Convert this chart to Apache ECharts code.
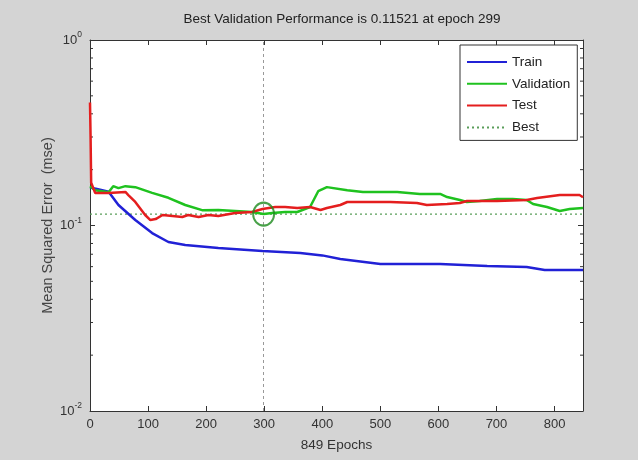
<!DOCTYPE html>
<html>
<head>
<meta charset="utf-8">
<script src="https://cdn.jsdelivr.net/npm/echarts@6/dist/echarts.min.js"></script>
<style>
  html, body { margin: 0; padding: 0; background: #d4d4d4; }
  #chart { width: 638px; height: 460px; }
</style>
</head>
<body>
<div id="chart"></div>
<script>
// epoch, mse
const trainData = [[0, 0.16], [10, 0.158], [32, 0.152], [49, 0.129], [78, 0.107], [107, 0.091], [135, 0.0815],
  [164, 0.0785], [221, 0.0756], [297, 0.0729], [362, 0.0711], [400, 0.069], [431, 0.066], [500, 0.062],
  [603, 0.062], [684, 0.0605], [752, 0.0598], [783, 0.0576], [849, 0.0576]]
const validData = [[0, 0.163], [9, 0.155], [32, 0.151], [40, 0.163], [49, 0.159], [61, 0.163], [78, 0.161],
  [107, 0.150], [135, 0.141], [164, 0.129], [193, 0.121], [221, 0.1212], [250, 0.1197], [279, 0.1182],
  [299, 0.11521], [314, 0.1168], [336, 0.1182], [357, 0.1182], [379, 0.1258], [393, 0.153], [408, 0.161],
  [443, 0.155], [470, 0.1516], [529, 0.1516], [568, 0.148], [603, 0.1479], [615, 0.1424], [637, 0.1373],
  [649, 0.1339], [671, 0.1356], [701, 0.139], [728, 0.139], [752, 0.1373], [763, 0.1306], [787, 0.1258],
  [809, 0.1197], [826, 0.1227], [849, 0.1243]]
const testData = [[0, 0.46], [1, 0.3], [2, 0.17], [9, 0.1497], [32, 0.1497], [61, 0.1516], [66, 0.146],
  [78, 0.1339], [95, 0.1139], [104, 0.107], [113, 0.1083], [125, 0.1139], [142, 0.1125], [159, 0.1111],
  [169, 0.1139], [187, 0.1111], [204, 0.1139], [221, 0.1125], [250, 0.1168], [279, 0.1182], [297, 0.1227],
  [319, 0.1258], [336, 0.1258], [357, 0.1243], [379, 0.1258], [397, 0.1212], [408, 0.1243], [431, 0.129],
  [443, 0.1339], [470, 0.1339], [517, 0.1339], [563, 0.1322], [580, 0.129], [615, 0.1306], [637, 0.1322],
  [649, 0.1356], [701, 0.1356], [752, 0.1373], [770, 0.1407], [809, 0.146], [843, 0.146], [849, 0.142]]

const bestEpoch = 299
const bestValue = 0.11521
const epochCount = 849

const xTicks = [0, 100, 200, 300, 400, 500, 600, 700, 800]
const minorTicks = [0.02, 0.03, 0.04, 0.05, 0.06, 0.07, 0.08, 0.09, 0.2, 0.3, 0.4, 0.5, 0.6, 0.7, 0.8, 0.9]

const font = 'Liberation Sans, Arial, sans-serif'
const axisColor = '#333'

const chart = echarts.init(document.getElementById('chart'))

const lineSeries = (name, data, color) => ({
  name,
  type: 'line',
  data,
  symbol: 'none',
  xAxisIndex: 0,
  yAxisIndex: 0,
  lineStyle: { color, width: 2.5 },
  itemStyle: { color },
  z: 3,
})

const option = {
  animation: false,
  backgroundColor: '#d4d4d4',
  title: {
    text: `Best Validation Performance is ${bestValue} at epoch ${bestEpoch}`,
    left: 337,
    textAlign: 'center',
    top: 7,
    textStyle: { fontFamily: font, fontSize: 13.5, fontWeight: 'normal', color: '#222' },
  },
  grid: {
    left: 90,
    right: 55,
    top: 40,
    bottom: 49,
    show: true,
    backgroundColor: '#fff',
    borderWidth: 0,
  },
  legend: {
    orient: 'vertical',
    left: 460,
    top: 45,
    data: ['Train', 'Validation', 'Test', 'Best'],
    backgroundColor: '#fff',
    borderColor: '#333',
    borderWidth: 1,
    borderRadius: 0,
    padding: [10, 7, 6, 6],
    itemWidth: 40,
    itemHeight: 14,
    itemGap: 7.8,
    itemStyle: { opacity: 0 },
    textStyle: { fontFamily: font, fontSize: 13.5, color: '#222' },
  },
  xAxis: [
    {
      type: 'value',
      min: 0,
      max: epochCount,
      interval: 100,
      name: `${epochCount} Epochs`,
      nameLocation: 'middle',
      nameGap: 27,
      nameTextStyle: { fontFamily: font, fontSize: 13.5, color: '#333' },
      axisLine: { show: true, lineStyle: { color: axisColor } },
      axisTick: { show: true, inside: true, length: 5, customValues: xTicks, lineStyle: { color: axisColor } },
      axisLabel: { customValues: xTicks, fontFamily: font, fontSize: 13, color: '#333', margin: 7 },
      splitLine: { show: false },
    },
    {
      type: 'value',
      position: 'top',
      min: 0,
      max: epochCount,
      interval: 100,
      axisLine: { show: true, onZero: false, lineStyle: { color: axisColor } },
      axisTick: { show: true, inside: true, length: 5, customValues: xTicks, lineStyle: { color: axisColor } },
      axisLabel: { show: false },
      splitLine: { show: false },
    },
  ],
  yAxis: [
    {
      type: 'log',
      logBase: 10,
      min: 0.01,
      max: 1,
      name: 'Mean Squared Error  (mse)',
      nameLocation: 'middle',
      nameGap: 35,
      nameMoveOverlap: false,
      nameTextStyle: { fontFamily: font, fontSize: 14.5, color: '#444' },
      axisLine: { show: true, lineStyle: { color: axisColor } },
      axisTick: { show: true, inside: true, length: 5, lineStyle: { color: axisColor } },
      axisLabel: {
        margin: 8,
        formatter: (v) => `{b|10}{s|${Math.round(Math.log10(v))}}`,
        rich: {
          b: { fontFamily: font, fontSize: 13, color: '#333' },
          s: { fontFamily: font, fontSize: 8.5, color: '#333', padding: [0, 0, 10, 0] },
        },
      },
      splitLine: { show: false },
    },
    {
      type: 'log',
      logBase: 10,
      min: 0.01,
      max: 1,
      position: 'right',
      axisLine: { show: true, onZero: false, lineStyle: { color: axisColor } },
      axisTick: { show: true, inside: true, length: 5, lineStyle: { color: axisColor } },
      axisLabel: { show: false },
      splitLine: { show: false },
    },
  ],
  series: [
    lineSeries('Train', trainData, '#2121d6'),
    lineSeries('Validation', validData, '#1fc21f'),
    lineSeries('Test', testData, '#e41e1e'),
    {
      name: 'Best',
      type: 'line',
      symbol: 'none',
      data: [[0, bestValue], [epochCount, bestValue]],
      lineStyle: { color: '#5a9e5a', width: 1.2, type: [2, 3] },
      itemStyle: { color: '#5a9e5a' },
      z: 2,
      markLine: {
        silent: true,
        symbol: ['none', 'none'],
        label: { show: false },
        lineStyle: { color: '#999', width: 1, type: [3, 3] },
        data: [{ xAxis: bestEpoch }],
      },
    },
    {
      name: 'bestPoint',
      type: 'scatter',
      data: [[bestEpoch, bestValue]],
      symbol: 'circle',
      symbolSize: [21, 23],
      itemStyle: { color: 'rgba(0,0,0,0)', borderColor: '#1b8a1b', borderWidth: 2 },
      z: 5,
      silent: true,
    },
    {
      name: 'minorTicks',
      type: 'custom',
      silent: true,
      clip: false,
      data: minorTicks.map((v) => [0, v]),
      renderItem: (params, api) => {
        const v = api.value(1)
        const l = api.coord([0, v])
        const r = api.coord([epochCount, v])
        const style = { stroke: axisColor, lineWidth: 1 }
        return {
          type: 'group',
          children: [
            { type: 'line', shape: { x1: l[0], y1: l[1], x2: l[0] + 3, y2: l[1] }, style },
            { type: 'line', shape: { x1: r[0], y1: r[1], x2: r[0] - 3, y2: r[1] }, style },
          ],
        }
      },
      z: 1,
    },
  ],
}

chart.setOption(option)
</script>
</body>
</html>
